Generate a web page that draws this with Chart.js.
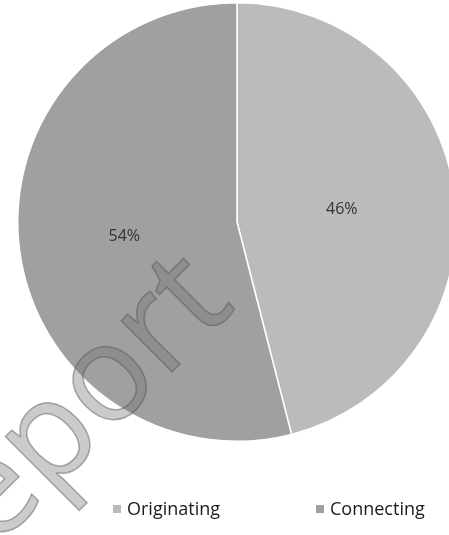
<!DOCTYPE html>
<html>
<head>
<meta charset="utf-8">
<script src="https://cdn.jsdelivr.net/npm/chart.js@4.4.1/dist/chart.umd.min.js"></script>
<style>
    html, body {
        margin: 0;
        padding: 0;
        width: 449px;
        height: 535px;
        overflow: hidden;
        background: #ffffff;
        font-family: "Open Sans", sans-serif;
    }
    #wrap {
        position: relative;
        width: 474px;
        height: 535px;
    }
    #legend {
        position: absolute;
        top: 0;
        left: 0;
        width: 449px;
        height: 535px;
        pointer-events: none;
    }
    .legend_item {
        position: absolute;
        top: 496px;
        font-size: 18px;
        color: #1a1a1a;
        white-space: nowrap;
    }
    .legend_box {
        display: inline-block;
        width: 8px;
        height: 8px;
        margin-right: 6px;
        vertical-align: 2px;
    }
</style>
</head>
<body>
<div id="wrap">
    <canvas id="pie" width="474" height="535"></canvas>
    <div id="legend"></div>
</div>
<script>
const categories = ['Originating', 'Connecting'];
const shares = [46, 54];
const sliceColors = ['#bbbbbb', '#a0a0a0'];
const legendLeft = [113, 316];

// percent labels drawn halfway out along each slice
const sliceLabels = {
    id: 'sliceLabels',
    afterDatasetsDraw(chart) {
        const ctx = chart.ctx;
        const meta = chart.getDatasetMeta(0);
        ctx.save();
        ctx.font = '16px "Open Sans", sans-serif';
        ctx.fillStyle = '#333333';
        ctx.textAlign = 'center';
        ctx.textBaseline = 'middle';
        meta.data.forEach((arc, i) => {
            const p = arc.getProps(['x', 'y', 'startAngle', 'endAngle', 'outerRadius'], true);
            const mid = (p.startAngle + p.endAngle) / 2;
            const r = p.outerRadius * 0.5;
            ctx.fillText(shares[i] + '%', p.x + Math.cos(mid) * r - 4, p.y + Math.sin(mid) * r + 1);
        });
        ctx.restore();
    }
};

// faint watermark over the chart
const watermark = {
    id: 'watermark',
    afterDraw(chart) {
        const ctx = chart.ctx;
        ctx.save();
        ctx.translate(237, 307);
        ctx.rotate(-45 * Math.PI / 180);
        ctx.font = '135px "Open Sans", sans-serif';
        ctx.textAlign = 'right';
        ctx.textBaseline = 'alphabetic';
        ctx.fillStyle = 'rgba(110, 110, 110, 0.36)';
        ctx.strokeStyle = 'rgba(80, 80, 80, 0.45)';
        ctx.lineWidth = 1.5;
        ctx.fillText('Report', 0, 0);
        ctx.strokeText('Report', 0, 0);
        ctx.restore();
    }
};

const ctx = document.getElementById('pie').getContext('2d');
new Chart(ctx, {
    type: 'pie',
    data: {
        labels: categories,
        datasets: [{
            data: shares,
            backgroundColor: sliceColors,
            borderColor: '#ffffff',
            borderWidth: 1.5
        }]
    },
    options: {
        responsive: false,
        animation: false,
        layout: {
            padding: { top: 2, bottom: 93, left: 0, right: 0 }
        },
        plugins: {
            legend: { display: false },
            tooltip: { enabled: false }
        }
    },
    plugins: [sliceLabels, watermark]
});

// legend under the pie
const legend = document.getElementById('legend');
categories.forEach((name, i) => {
    const item = document.createElement('div');
    item.className = 'legend_item';
    item.style.left = legendLeft[i] + 'px';
    item.innerHTML = '<span class="legend_box" style="background:' + sliceColors[i] + '"></span>' + name;
    legend.appendChild(item);
});
</script>
</body>
</html>
